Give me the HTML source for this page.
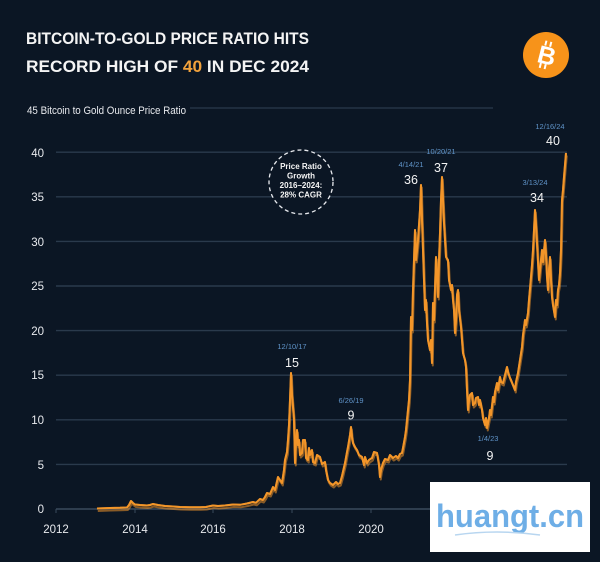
<!DOCTYPE html>
<html><head><meta charset="utf-8"><style>
html,body{margin:0;padding:0;background:#0b1624;}
svg{display:block;}
text{font-family:"Liberation Sans",sans-serif;}
</style></head><body>
<svg width="600" height="562" viewBox="0 0 600 562" xmlns="http://www.w3.org/2000/svg">
<rect width="600" height="562" fill="#0b1624"/>
<!-- Title -->
<text x="26" y="44" font-size="16.5" font-weight="bold" fill="#f4f4f4" textLength="283" lengthAdjust="spacingAndGlyphs">BITCOIN-TO-GOLD PRICE RATIO HITS</text>
<text x="26" y="72" font-size="16.5" font-weight="bold" fill="#f4f4f4" textLength="283" lengthAdjust="spacingAndGlyphs">RECORD HIGH OF <tspan fill="#f2a23c">40</tspan> IN DEC 2024</text>
<!-- Bitcoin logo -->
<circle cx="546" cy="55" r="23" fill="#f7931a"/>
<g transform="rotate(14 546 55)">
<text x="547" y="64" font-size="25" font-weight="bold" fill="#fff" text-anchor="middle">B</text>
<rect x="542" y="41" width="2" height="5" fill="#fff"/>
<rect x="547" y="41" width="2" height="5" fill="#fff"/>
<rect x="542" y="64" width="2" height="5" fill="#fff"/>
<rect x="547" y="64" width="2" height="5" fill="#fff"/>
</g>
<!-- Subtitle / 45 line -->
<text x="27" y="114" font-size="11" fill="#e8eaee" textLength="159" lengthAdjust="spacingAndGlyphs">45 Bitcoin to Gold Ounce Price Ratio</text>
<line x1="190" y1="108" x2="493" y2="108" stroke="#2a3a4c" stroke-width="1.3"/>
<!-- Gridlines -->
<g stroke="#2a3a4c" stroke-width="1.4">
<line x1="56" y1="152.2" x2="567" y2="152.2"/>
<line x1="56" y1="196.8" x2="567" y2="196.8"/>
<line x1="56" y1="241.4" x2="567" y2="241.4"/>
<line x1="56" y1="286" x2="567" y2="286"/>
<line x1="56" y1="330.6" x2="567" y2="330.6"/>
<line x1="56" y1="375.2" x2="567" y2="375.2"/>
<line x1="56" y1="419.8" x2="567" y2="419.8"/>
<line x1="56" y1="464.4" x2="567" y2="464.4"/>
<line x1="56" y1="509" x2="567" y2="509" stroke="#3a4a5c"/>
</g>
<g stroke="#3a4a5c" stroke-width="1">
<line x1="56" y1="509" x2="56" y2="513"/>
<line x1="135" y1="509" x2="135" y2="513"/>
<line x1="213" y1="509" x2="213" y2="513"/>
<line x1="292" y1="509" x2="292" y2="513"/>
<line x1="371" y1="509" x2="371" y2="513"/>
</g>
<!-- Y labels -->
<g font-size="11.5" fill="#e8eaee" text-anchor="end">
<text x="44" y="157">40</text>
<text x="44" y="201">35</text>
<text x="44" y="246">30</text>
<text x="44" y="290">25</text>
<text x="44" y="335">20</text>
<text x="44" y="379">15</text>
<text x="44" y="424">10</text>
<text x="44" y="469">5</text>
<text x="44" y="513">0</text>
</g>
<!-- X labels -->
<g font-size="11.5" fill="#e8eaee" text-anchor="middle">
<text x="56" y="533">2012</text>
<text x="135" y="533">2014</text>
<text x="213" y="533">2016</text>
<text x="292" y="533">2018</text>
<text x="371" y="533">2020</text>
<text x="449" y="533">2022</text>
<text x="528" y="533">2024</text>
</g>
<!-- Circle annotation -->
<circle cx="301" cy="182" r="32" fill="#0b1624" stroke="#e8eaee" stroke-width="1.3" stroke-dasharray="4 3"/>
<g font-size="8" font-weight="bold" fill="#f4f4f4" text-anchor="middle">
<text x="301" y="169">Price Ratio</text>
<text x="301" y="178.5">Growth</text>
<text x="301" y="188">2016–2024:</text>
<text x="301" y="197.5">28% CAGR</text>
</g>
<!-- Series -->
<g fill="none" stroke-linejoin="round">
<polyline id="s" stroke="#f3962a" stroke-width="2" points="97,508.5 110,508 120,507.8 127,507.5 129,505 131,501 133,503 135,504.5 140,505 147,505.5 150,505 153,504 158,505 165,506 173,506.5 180,507 190,507.3 200,507.2 206,507 213,505.5 218,506 225,505.5 233,504.5 240,504.8 247,503.5 253,502 256,502.8 260,499 263,500 265,497 267,493 270,494 273,487 275,490 278,477 280,480 282,483 284,470 285,460 287,452 288,440 289,425 290,400 291,373 292,395 293,407 294,420 295,463 296,440 297,430 298,445 299,440 300,455 302,453 303,440 305,440 306,458 308,460 309,448 310,455 312,450 313,462 315,463 317,455 320,457 322,464 325,462 326,470 328,480 330,483 333,485 336,482 338,484 340,483 342,476 345,463 347,452 348,447 350,435 351,427 352,437 353,443 355,447 357,450 359,455 362,457 364,465 365,457 367,463 369,460 372,458 374,452 377,453 379,465 380,477 381,470 383,463 385,459 388,460 390,455 393,458 396,456 398,458 400,454 402,453 403,448 405,437 406,430 408,410 409,400 410,380 411,317 412,330 413,290 415,230 416,260 417,250 418,240 420,210 421,185 422,220 423,250 424,280 425,310 426,300 427,323 428,340 430,350 431,340 432,363 433,303 434,320 436,257 437,275 438,297 439,260 440,233 441,200 442,177 443,200 444,223 445,240 446,257 448,260 449,280 451,290 452,285 453,300 454,310 455,333 456,320 457,295 458,290 459,310 461,327 462,340 463,353 465,360 466,367 467,390 468,410 469,400 470,395 472,393 473,405 475,403 476,398 478,397 479,405 480,400 482,410 483,418 485,425 486,418 487,428 488,423 489,418 490,410 491,415 493,397 494,402 495,392 497,383 498,390 500,377 501,382 503,383 505,375 507,367 508,372 510,378 511,380 513,385 515,390 516,382 518,373 520,360 522,347 523,335 525,320 526,325 528,313 529,300 531,277 532,265 533,250 534,230 535,210 536,225 537,243 538,262 539,280 540,270 542,250 543,262 545,240 546,255 547,277 548,290 549,270 550,257 551,280 552,297 553,305 555,317 556,300 557,305 558,290 559,285 560,273 561,250 562,200 563,190 564,177 565,165 566,153"/>
<use href="#s" transform="translate(0.8,2.5)" stroke-opacity="0.55"/>
<use href="#s" stroke="#ffd9a0" stroke-width="0.6" stroke-opacity="0.6"/>
</g>
<!-- Annotations -->
<g font-size="7.5" fill="#5f93c8" text-anchor="middle">
<text x="292" y="349">12/10/17</text>
<text x="351" y="403">6/26/19</text>
<text x="411" y="167">4/14/21</text>
<text x="441" y="154">10/20/21</text>
<text x="535" y="185">3/13/24</text>
<text x="550" y="129">12/16/24</text>
<text x="488" y="441">1/4/23</text>
</g>
<g font-size="12.5" fill="#f4f4f4" text-anchor="middle">
<text x="292" y="367">15</text>
<text x="351" y="419.5">9</text>
<text x="411" y="184">36</text>
<text x="441" y="172">37</text>
<text x="537" y="202">34</text>
<text x="553" y="145">40</text>
<text x="490" y="460">9</text>
</g>
<!-- Watermark -->
<rect x="430" y="482" width="160" height="70" fill="#ffffff"/>
<text x="436" y="527" font-size="32" font-weight="bold" fill="#6eaee6" textLength="148" lengthAdjust="spacingAndGlyphs">huangt.cn</text>
<path d="M455,535 Q497,529 540,535" fill="none" stroke="#b8d6f0" stroke-width="1.5"/>
</svg>
</body></html>
